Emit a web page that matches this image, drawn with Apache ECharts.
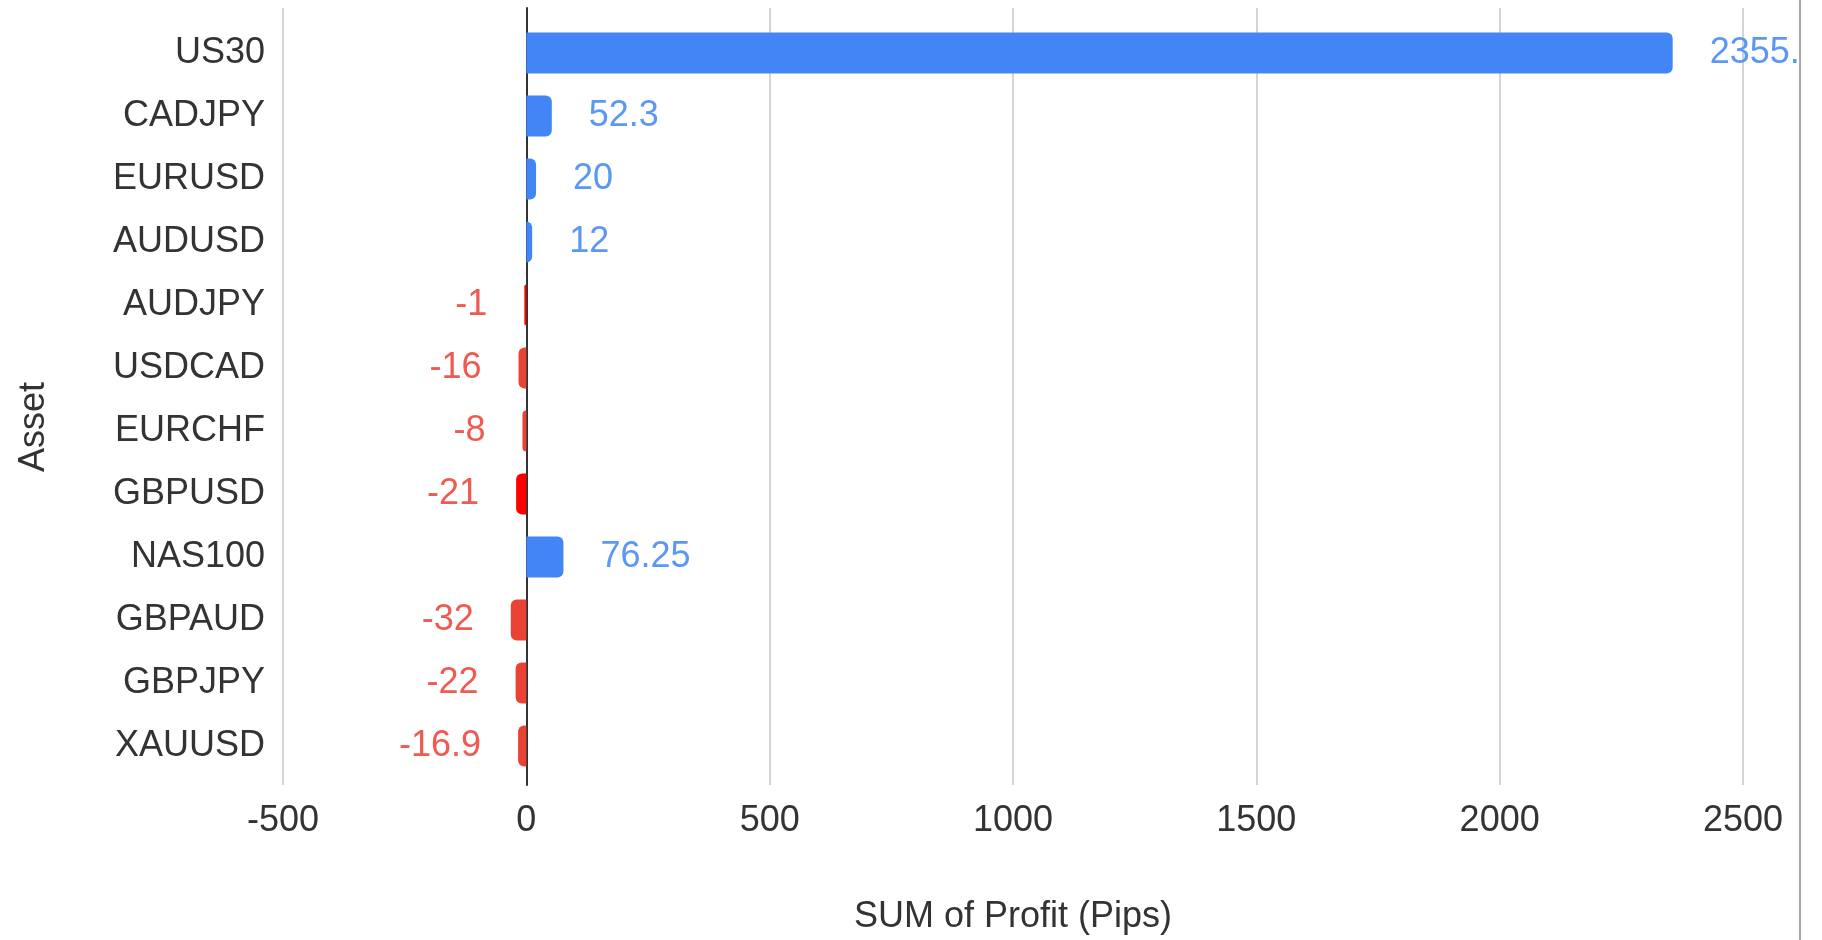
<!DOCTYPE html>
<html>
<head>
<meta charset="utf-8">
<script src="https://cdn.jsdelivr.net/npm/echarts@6/dist/echarts.min.js"></script>
<style>
html,body{margin:0;padding:0;background:#fff;}
#chart{width:1822px;height:940px;}
</style>
</head>
<body>
<div id="chart"></div>
<script>
// ---- data ----
const categories = ['US30','CADJPY','EURUSD','AUDUSD','AUDJPY','USDCAD','EURCHF','GBPUSD','NAS100','GBPAUD','GBPJPY','XAUUSD'];
const profit = [2355.5, 52.3, 20, 12, -1, -16, -8, -21, 76.25, -32, -22, -16.9];
const xTicks = [-500, 0, 500, 1000, 1500, 2000, 2500];
const xTitle = 'SUM of Profit (Pips)';
const yTitle = 'Asset';

// ---- styles ----
const BLUE = '#4285F4', RED = '#EA4335', BRIGHT = '#FF0000';
const brightCats = ['AUDJPY','GBPUSD'];
const FONT = '"Liberation Sans", Arial, sans-serif';
const FS = 36;
const TXT = '#333';

const chart = echarts.init(document.getElementById('chart'), null, {renderer:'canvas'});

const items = profit.map((v, i) => {
  const pos = v >= 0;
  const col = pos ? BLUE : (brightCats.includes(categories[i]) ? BRIGHT : RED);
  return {
    value: v,
    itemStyle: { color: col, borderRadius: pos ? [0,6,6,0] : [6,0,0,6] },
    label: {
      position: pos ? 'right' : 'left',
      color: pos ? '#5b97f5' : '#ef5b52'
    }
  };
});

const xMin = xTicks[0], xMax = xTicks[xTicks.length-1], xInt = xTicks[1]-xTicks[0];

chart.setOption({
  animation: false,
  backgroundColor: '#fff',
  grid: [
    { left: 283, right: 79, top: 8, bottom: 151, containLabel: false },
    { left: 283, right: 79, top: 21.5, bottom: 162.5, containLabel: false }
  ],
  xAxis: [
    {
      gridIndex: 0, type: 'value', min: xMin, max: xMax, interval: xInt,
      axisLine: { show: false }, axisTick: { show: false },
      splitLine: { show: true, lineStyle: { color: '#d4d4d4', width: 2 } },
      axisLabel: { color: TXT, fontFamily: FONT, fontSize: FS, margin: 18, formatter: v => String(v) },
      name: xTitle, nameLocation: 'middle', nameGap: 114,
      nameTextStyle: { color: TXT, fontFamily: FONT, fontSize: FS }
    },
    {
      gridIndex: 1, type: 'value', min: xMin, max: xMax, interval: xInt, show: false
    }
  ],
  yAxis: [
    {
      gridIndex: 0, type: 'category', data: [''],
      axisLine: { show: true, onZero: true, lineStyle: { color: '#333', width: 2 } },
      axisTick: { show: false }, axisLabel: { show: false }, splitLine: { show: false }
    },
    {
      gridIndex: 1, type: 'category', data: categories, inverse: true,
      axisLine: { show: false }, axisTick: { show: false }, splitLine: { show: false },
      axisLabel: { color: TXT, fontFamily: FONT, fontSize: FS, margin: 18 }
    }
  ],
  series: [{
    type: 'bar', xAxisIndex: 1, yAxisIndex: 1,
    data: items, barWidth: 41, barMinHeight: 2, z: 3,
    label: {
      show: true, distance: 37, fontFamily: FONT, fontSize: FS,
      formatter: p => String(p.value)
    }
  }],
  graphic: [
    {
      type: 'text', x: 34, y: 427, rotation: Math.PI/2,
      style: { text: yTitle, fill: TXT, font: FS + 'px ' + FONT, textAlign: 'center', textVerticalAlign: 'middle' }
    },
    { type: 'rect', shape: { x: 1801, y: 0, width: 30, height: 940 }, style: { fill: '#fff' }, z: 100 },
    { type: 'line', shape: { x1: 1800, y1: 0, x2: 1800, y2: 940 }, style: { stroke: '#aaa', lineWidth: 2 }, z: 101 }
  ]
});
</script>
</body>
</html>
